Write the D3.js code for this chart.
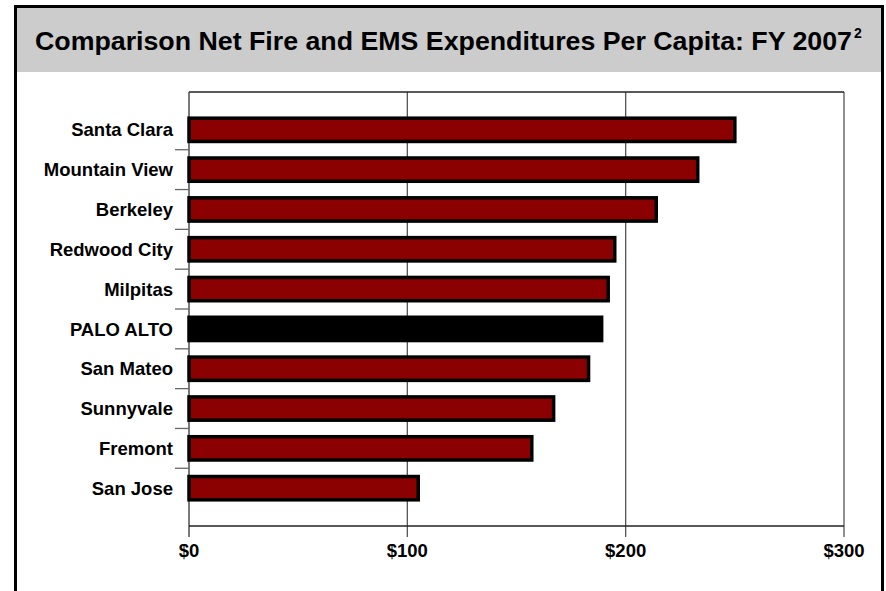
<!DOCTYPE html>
<html>
<head>
<meta charset="utf-8">
<script src="https://cdn.jsdelivr.net/npm/d3@7"></script>
<style>
    body { margin: 0; background: #fff; }
    svg text { font-family: "Liberation Sans", Arial, Helvetica, sans-serif; font-weight: bold; fill: #000; }
</style>
</head>
<body>
<div id="chart"></div>
<script>

// values
let cities = ["Santa Clara", "Mountain View", "Berkeley", "Redwood City", "Milpitas",
    "PALO ALTO", "San Mateo", "Sunnyvale", "Fremont", "San Jose"];
let perCapita = [250, 233, 214, 195, 192, 189, 183, 167, 157, 105];
let xTicks = [0, 100, 200, 300];
let highlightCity = "PALO ALTO";
let titleText = "Comparison Net Fire and EMS Expenditures Per Capita: FY 2007";
let titleNote = "2";

class BarVis {
    constructor(_parentElement, _data) {
        this.parentElement = _parentElement;
        this.data = _data;

        this.initVis();
    }

    initVis() {
        let vis = this;

        vis.totalWidth = 886;
        vis.totalHeight = 591;
        vis.margin = {top: 92, right: 42, bottom: 65, left: 189};
        vis.width = vis.totalWidth - vis.margin.left - vis.margin.right;
        vis.height = vis.totalHeight - vis.margin.top - vis.margin.bottom;

        vis.root = d3.select("#" + vis.parentElement).append("svg")
            .attr("width", vis.totalWidth)
            .attr("height", vis.totalHeight);

        // title band + outer frame
        vis.root.append("rect")
            .attr("x", 17).attr("y", 8)
            .attr("width", 864).attr("height", 64)
            .attr("fill", "#cccccc");

        vis.root.append("path")
            .attr("d", "M15.5,591V6.5H882.5V591")
            .attr("fill", "none")
            .attr("stroke", "#000")
            .attr("stroke-width", 3);

        vis.root.append("text")
            .attr("x", 35)
            .attr("y", 50)
            .attr("font-size", 26.5)
            .attr("textLength", 817)
            .attr("lengthAdjust", "spacingAndGlyphs")
            .text(titleText);

        vis.root.append("text")
            .attr("x", 854)
            .attr("y", 38)
            .attr("font-size", 14)
            .text(titleNote);

        vis.svg = vis.root.append("g")
            .attr("transform", "translate(" + vis.margin.left + "," + vis.margin.top + ")");

        vis.x = d3.scaleLinear().domain([0, 300]).range([0, vis.width]);
        vis.y = d3.scaleBand()
            .domain(cities)
            .range([0, vis.height])
            .paddingInner(0)
            .paddingOuter(0.45);

        vis.updateVis();
    }

    updateVis() {
        let vis = this;
        let bw = vis.y.bandwidth();
        let barH = bw * 0.585;

        // vertical gridlines (also form the ticks under the axis)
        vis.svg.append("g").attr("class", "grid")
            .selectAll("line")
            .data(xTicks)
            .enter()
            .append("line")
            .attr("x1", d => vis.x(d))
            .attr("x2", d => vis.x(d))
            .attr("y1", 0)
            .attr("y2", vis.height + 11)
            .attr("stroke", d => d === 0 ? "#333" : "#555")
            .attr("stroke-width", 1.3);

        // top frame line
        vis.svg.append("line")
            .attr("x1", 0).attr("x2", vis.width)
            .attr("y1", 0).attr("y2", 0)
            .attr("stroke", "#222")
            .attr("stroke-width", 1.5);

        // left ticks between categories
        vis.svg.append("g").attr("class", "yticks")
            .selectAll("line")
            .data(cities.slice(1))
            .enter()
            .append("line")
            .attr("x1", -14).attr("x2", 0)
            .attr("y1", d => vis.y(d))
            .attr("y2", d => vis.y(d))
            .attr("stroke", "#666")
            .attr("stroke-width", 1.3);

        vis.svg.append("g").attr("class", "bars")
            .selectAll("rect")
            .data(vis.data)
            .enter()
            .append("rect")
            .attr("x", 0)
            .attr("y", d => vis.y(d.city) + (bw - barH) / 2)
            .attr("width", d => vis.x(d.value))
            .attr("height", barH)
            .attr("fill", d => d.city === highlightCity ? "#000" : "#8b0000")
            .attr("stroke", "#000")
            .attr("stroke-width", 3.5);

        // bottom axis line
        vis.svg.append("line")
            .attr("x1", 0).attr("x2", vis.width)
            .attr("y1", vis.height).attr("y2", vis.height)
            .attr("stroke", "#222")
            .attr("stroke-width", 1.5);

        vis.svg.append("g").attr("class", "ylabels")
            .selectAll("text")
            .data(cities)
            .enter()
            .append("text")
            .attr("x", -16)
            .attr("y", d => vis.y(d) + bw / 2)
            .attr("dy", "0.36em")
            .attr("text-anchor", "end")
            .attr("font-size", 18.5)
            .text(d => d);

        vis.svg.append("g").attr("class", "xlabels")
            .selectAll("text")
            .data(xTicks)
            .enter()
            .append("text")
            .attr("x", d => vis.x(d))
            .attr("y", vis.height + 31)
            .attr("text-anchor", "middle")
            .attr("font-size", 18.5)
            .text(d => "$" + d);
    }
}

let barData = cities.map((c, i) => ({city: c, value: perCapita[i]}));
let myBarVis = new BarVis("chart", barData);

</script>
</body>
</html>
